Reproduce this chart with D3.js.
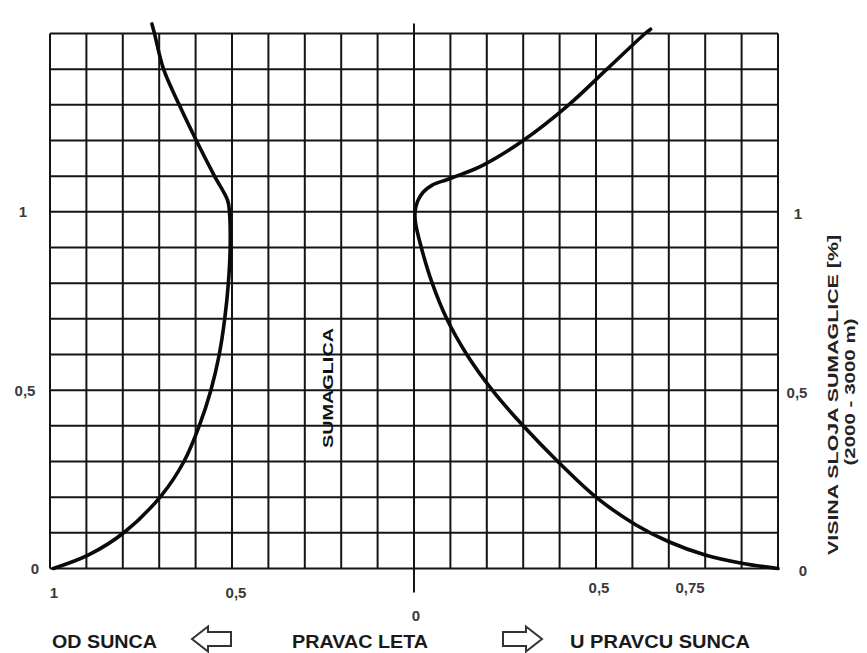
<!DOCTYPE html>
<html>
<head>
<meta charset="utf-8">
<script src="https://cdn.jsdelivr.net/npm/d3@7"></script>
<style>
  html, body { margin: 0; padding: 0; background: #fff; }
  svg { display: block; }
  text { font-family: "Liberation Sans", Arial, sans-serif; font-weight: bold; }
</style>
</head>
<body>
<svg id="chart" width="867" height="653"></svg>
<script>
// ---------- DATA ----------
// Height of smog layer (fraction of 2000-3000 m), 0 .. 1.5
const heightTicks = [0, 0.5, 1];
const heightTickLabels = ["0", "0,5", "1"];
// Horizontal axis: negative = "od sunca" (away from sun), positive = "u pravcu sunca"
const leftTicks = [-1, -0.5];
const leftTickLabels = ["1", "0,5"];
const rightTicks = [0.5, 0.75];
const rightTickLabels = ["0,5", "0,75"];
const centerTickLabel = "0";

// Curve "od sunca": height -> distance from centre line
const odSuncaHeight = [0, 0.038, 0.103, 0.206, 0.3, 0.4, 0.5, 0.6, 0.7, 0.8, 0.9, 1.0, 1.032, 1.1, 1.2, 1.3, 1.4, 1.5, 1.527];
const odSuncaValue  = [0.991, 0.894, 0.794, 0.693, 0.632, 0.59, 0.558, 0.535, 0.52, 0.51, 0.505, 0.507, 0.512, 0.548, 0.598, 0.645, 0.688, 0.713, 0.72];

// Curve "u pravcu sunca": height -> distance from centre line
const uPravcuHeight = [0, 0.015, 0.038, 0.075, 0.122, 0.2, 0.3, 0.4, 0.5, 0.6, 0.7, 0.8, 0.9, 0.97, 1.0, 1.03, 1.055, 1.075, 1.09, 1.105, 1.131, 1.2, 1.3, 1.4, 1.5, 1.512];
const uPravcuValue  = [1.0, 0.9, 0.8, 0.7, 0.61, 0.5, 0.395, 0.3, 0.215, 0.145, 0.09, 0.05, 0.02, 0.004, 0.003, 0.01, 0.025, 0.05, 0.09, 0.13, 0.19, 0.3, 0.425, 0.53, 0.635, 0.65];

const labelSmog = "SUMAGLICA";
const axisTitle1 = "VISINA SLOJA SUMAGLICE [%]";
const axisTitle2 = "(2000 - 3000 m)";
const footerLeft = "OD SUNCA";
const footerMid = "PRAVAC LETA";
const footerRight = "U PRAVCU SUNCA";

// ---------- DRAW ----------
const svg = d3.select("#chart");
const x = d3.scaleLinear().domain([-1, 1]).range([50, 778]);
const y = d3.scaleLinear().domain([0, 1.5]).range([568.5, 33.5]);

const gridColor = "#141414";
const g = svg.append("g");

// grid
const vx = d3.range(-10, 11).map(i => i / 10);
const hy = d3.range(0, 16).map(i => i / 10);
g.selectAll("line.v").data(vx).join("line")
  .attr("x1", d => x(d)).attr("x2", d => x(d))
  .attr("y1", y(1.5)).attr("y2", y(0))
  .attr("stroke", gridColor).attr("stroke-width", 2);
g.selectAll("line.h").data(hy).join("line")
  .attr("x1", x(-1)).attr("x2", x(1))
  .attr("y1", d => y(d)).attr("y2", d => y(d))
  .attr("stroke", gridColor).attr("stroke-width", 2);
// centre line extends
g.append("line")
  .attr("x1", x(0)).attr("x2", x(0))
  .attr("y1", y(1.5) - 10).attr("y2", y(0) + 24)
  .attr("stroke", gridColor).attr("stroke-width", 2);

// curves
const line = d3.line()
  .x(d => x(d[0])).y(d => y(d[1]))
  .curve(d3.curveCatmullRom.alpha(0.5));
const odData = odSuncaHeight.map((h, i) => [-odSuncaValue[i], h]);
const upData = uPravcuHeight.map((h, i) => [uPravcuValue[i], h]);
[odData, upData].forEach(data => {
  g.append("path").datum(data)
    .attr("d", line)
    .attr("fill", "none")
    .attr("stroke", "#0a0a0a")
    .attr("stroke-width", 3.6)
    .attr("stroke-linecap", "round")
    .attr("stroke-linejoin", "round");
});

// vertical tick labels (left & right)
const labelFill = "#3a3a3a";
const leftDx = {"0": 35, "0,5": 25, "1": 23};
const rightDx = {"0": 803, "0,5": 797, "1": 798};
heightTicks.forEach((t, i) => {
  const lab = heightTickLabels[i];
  svg.append("text").attr("x", leftDx[lab]).attr("y", y(t) + 5.5)
    .attr("text-anchor", "middle").attr("font-size", 15).attr("fill", labelFill).text(lab);
  svg.append("text").attr("x", rightDx[lab]).attr("y", y(t) + 7.5)
    .attr("text-anchor", "middle").attr("font-size", 15).attr("fill", labelFill).text(lab);
});

// horizontal tick labels
leftTicks.forEach((t, i) => {
  svg.append("text").attr("x", x(t) + 4).attr("y", y(0) + 29)
    .attr("text-anchor", "middle").attr("font-size", 15).attr("fill", labelFill).text(leftTickLabels[i]);
});
rightTicks.forEach((t, i) => {
  svg.append("text").attr("x", x(t) + 3).attr("y", y(0) + 24)
    .attr("text-anchor", "middle").attr("font-size", 15).attr("fill", labelFill).text(rightTickLabels[i]);
});
svg.append("text").attr("x", x(0) + 2).attr("y", y(0) + 52)
  .attr("text-anchor", "middle").attr("font-size", 15).attr("fill", labelFill).text(centerTickLabel);

// SUMAGLICA vertical
svg.append("text")
  .attr("transform", `translate(333, 388) rotate(-90)`)
  .attr("text-anchor", "middle").attr("font-size", 15).attr("fill", "#111")
  .attr("textLength", 120).attr("lengthAdjust", "spacingAndGlyphs")
  .text(labelSmog);

// right axis title
svg.append("text")
  .attr("transform", `translate(838, 395) rotate(-90)`)
  .attr("text-anchor", "middle").attr("font-size", 14.5).attr("fill", "#222")
  .attr("textLength", 320).attr("lengthAdjust", "spacingAndGlyphs")
  .text(axisTitle1);
svg.append("text")
  .attr("transform", `translate(855, 392) rotate(-90)`)
  .attr("text-anchor", "middle").attr("font-size", 14).attr("fill", "#222")
  .attr("textLength", 147).attr("lengthAdjust", "spacingAndGlyphs")
  .text(axisTitle2);

// footer
const fy = 648;
svg.append("text").attr("x", 52).attr("y", fy).attr("font-size", 18.5).attr("fill", "#1a1a1a")
  .attr("textLength", 105).attr("lengthAdjust", "spacingAndGlyphs").text(footerLeft);
svg.append("text").attr("x", 292).attr("y", fy).attr("font-size", 18.5).attr("fill", "#1a1a1a")
  .attr("textLength", 136).attr("lengthAdjust", "spacingAndGlyphs").text(footerMid);
svg.append("text").attr("x", 570).attr("y", fy).attr("font-size", 18.5).attr("fill", "#1a1a1a")
  .attr("textLength", 180).attr("lengthAdjust", "spacingAndGlyphs").text(footerRight);

// arrows (outline)
function arrow(tipX, dir) {
  const cy = 639;
  const headLen = 16, tailLen = 23, headH = 12.5, tailH = 7;
  const p = d3.path();
  const bx = tipX + dir * headLen, ex = bx + dir * tailLen;
  p.moveTo(tipX, cy);
  p.lineTo(bx, cy - headH);
  p.lineTo(bx, cy - tailH);
  p.lineTo(ex, cy - tailH);
  p.lineTo(ex, cy + tailH);
  p.lineTo(bx, cy + tailH);
  p.lineTo(bx, cy + headH);
  p.closePath();
  svg.append("path").attr("d", p.toString())
    .attr("fill", "none").attr("stroke", "#333").attr("stroke-width", 2)
    .attr("stroke-linejoin", "miter");
}
arrow(192, 1);
arrow(542, -1);
</script>
</body>
</html>
